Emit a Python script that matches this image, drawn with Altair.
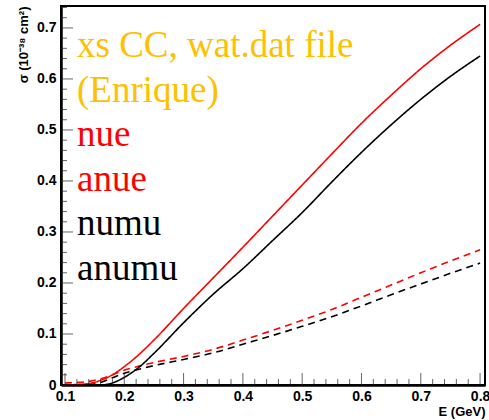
import altair as alt
import pandas as pd

# ---- data ----
energy = [0.10, 0.12, 0.14, 0.16, 0.18, 0.20, 0.225, 0.25, 0.30, 0.35, 0.40,
          0.45, 0.50, 0.55, 0.60, 0.65, 0.70, 0.75, 0.80]
nue = [0.000, 0.001, 0.003, 0.009, 0.020, 0.036, 0.060, 0.088, 0.150, 0.210,
       0.270, 0.331, 0.392, 0.453, 0.513, 0.568, 0.620, 0.666, 0.707]
anue = [0.004, 0.005, 0.007, 0.012, 0.020, 0.029, 0.037, 0.044, 0.056, 0.070,
        0.088, 0.107, 0.127, 0.148, 0.172, 0.196, 0.220, 0.243, 0.265]
numu = [0.000, 0.000, 0.000, 0.000, 0.004, 0.015, 0.035, 0.062, 0.122, 0.178,
        0.228, 0.283, 0.338, 0.398, 0.456, 0.510, 0.560, 0.605, 0.645]
anumu = [None, None, 0.000, 0.005, 0.014, 0.023, 0.031, 0.038, 0.050, 0.063,
         0.080, 0.097, 0.115, 0.134, 0.155, 0.177, 0.198, 0.219, 0.239]

series_names = ["nue", "anue", "numu", "anumu"]
series_colors = ["#ff0000", "#ff0000", "#000000", "#000000"]
series_dash = [[1, 0], [7, 5], [1, 0], [7, 5]]

x_major = [0.1, 0.2, 0.3, 0.4, 0.5, 0.6, 0.7, 0.8]
y_major = [0.0, 0.1, 0.2, 0.3, 0.4, 0.5, 0.6, 0.7]
x_minor = [round(0.1 + 0.02 * i, 2) for i in range(36) if i % 5 != 0]
y_minor = [round(0.02 * i, 2) for i in range(38) if i % 5 != 0]

texts = ["xs CC, wat.dat file", "(Enrique)", "nue", "anue", "numu", "anumu"]
text_colors = ["#ffc000", "#ffc000", "#ff0000", "#ff0000", "#000000", "#000000"]

# ---- build table ----
rows = []
for name, vals in zip(series_names, [nue, anue, numu, anumu]):
    for e, v in zip(energy, vals):
        if v is not None:
            rows.append({"E": e, "sigma": v, "series": name})
df = pd.DataFrame(rows)

W, H = 424, 379
xscale = alt.Scale(domain=[0.0933, 0.8083], nice=False, zero=False)
yscale = alt.Scale(domain=[0.0, 0.743], nice=False, zero=False)

lab_font = "Liberation Sans"
xaxis = alt.Axis(values=x_major, format=".1f", ticks=False, grid=False,
                 domainColor="black", domainWidth=2.5,
                 labelFont=lab_font, labelFontWeight="bold", labelFontSize=14,
                 labelColor="black", labelPadding=4, labelFlush=False,
                 title="E (GeV)", titleFont=lab_font, titleFontWeight="bold",
                 titleFontSize=13, titleAnchor="end", titleBaseline="middle",
                 titleY=26, titleColor="black")
yaxis = alt.Axis(values=y_major, format=".1~f", ticks=False, grid=False,
                 domainColor="black", domainWidth=2.5,
                 labelFont=lab_font, labelFontWeight="bold", labelFontSize=14,
                 labelColor="black", labelPadding=5, labelFlush=False,
                 title="σ (10⁻³⁸ cm²)", titleFont=lab_font, titleFontWeight="bold",
                 titleFontSize=13, titleAnchor="end", titleBaseline="middle",
                 titleX=-38, titleColor="black")

def xenc(field):
    return alt.X(field, type="quantitative", scale=xscale, axis=xaxis)

def yenc(field):
    return alt.Y(field, type="quantitative", scale=yscale, axis=yaxis)

lines = alt.Chart(df).mark_line(strokeWidth=1.6, clip=True, interpolate="monotone").encode(
    x=xenc("E"),
    y=yenc("sigma"),
    color=alt.Color("series:N", scale=alt.Scale(domain=series_names, range=series_colors), legend=None),
    strokeDash=alt.StrokeDash("series:N", scale=alt.Scale(domain=series_names, range=series_dash), legend=None),
    detail="series:N",
)

tick_color = "#222222"
xt_major = alt.Chart(pd.DataFrame({"E": x_major})).mark_tick(
    orient="vertical", size=12, thickness=1, color=tick_color).encode(
    x=xenc("E"), y=alt.value(H - 6))
xt_minor = alt.Chart(pd.DataFrame({"E": x_minor})).mark_tick(
    orient="vertical", size=6, thickness=1, color=tick_color).encode(
    x=xenc("E"), y=alt.value(H - 3))
yt_major = alt.Chart(pd.DataFrame({"sigma": y_major})).mark_tick(
    orient="horizontal", size=12, thickness=1, color=tick_color).encode(
    y=yenc("sigma"), x=alt.value(6))
yt_minor = alt.Chart(pd.DataFrame({"sigma": y_minor})).mark_tick(
    orient="horizontal", size=6, thickness=1, color=tick_color).encode(
    y=yenc("sigma"), x=alt.value(3))

text_layers = []
for i, (t, c) in enumerate(zip(texts, text_colors)):
    text_layers.append(
        alt.Chart(pd.DataFrame({"label": [t]})).mark_text(
            font="Liberation Serif", fontSize=37, color=c, align="left",
            baseline="alphabetic").encode(
            text="label:N", x=alt.value(16), y=alt.value(51 + i * 44.6))
    )

chart = alt.layer(lines, xt_major, xt_minor, yt_major, yt_minor, *text_layers).properties(
    width=W, height=H,
    padding={"left": 61, "top": 6, "right": 4, "bottom": 35},
    autosize=alt.AutoSizeParams(type="none"),
    background="white",
).configure_view(stroke="black", strokeWidth=2)

chart.save("out.html", embed_options={"renderer": "svg", "actions": False})
